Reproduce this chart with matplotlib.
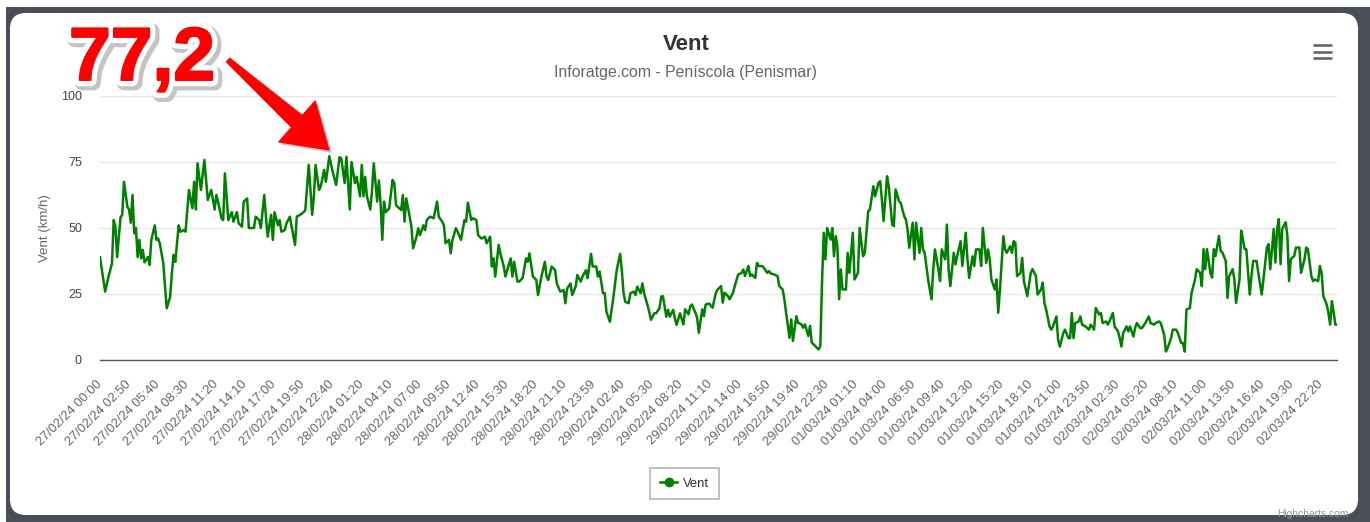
import matplotlib.pyplot as plt
import matplotlib.patheffects as pe
from matplotlib.patches import FancyBboxPatch, Rectangle, Polygon
from matplotlib.lines import Line2D
from matplotlib.transforms import IdentityTransform
import numpy as np

W, H = 1370, 522

# sample number (10 min steps from 27/02/24 00:00) and wind speed in km/h
steps = [0, 3, 5, 7, 8, 9, 10, 12, 13, 14, 16, 17, 18, 19, 20, 21, 22, 23, 24, 25, 26, 28, 29, 30,
         32, 33, 34, 35, 37, 38, 39, 41, 42, 43, 44, 46, 47, 49, 50, 52, 54, 55, 56, 57, 59, 61,
         63, 64, 65, 67, 68, 69, 71, 72, 73, 75, 77, 78, 80, 81, 83, 84, 86, 87, 90, 91, 93, 94,
         96, 97, 98, 100, 101, 102, 104, 105, 106, 108, 109, 111, 112, 114, 115, 117, 119, 120,
         122, 124, 125, 126, 128, 129, 131, 132, 133, 134, 136, 138, 140, 141, 143, 144, 146, 147,
         149, 150, 152, 153, 154, 155, 156, 158, 159, 160, 162, 163, 164, 165,
         166, 167, 169, 171, 172, 173, 174, 176, 177, 178, 179, 181, 182, 183, 185, 186, 187, 189,
         190, 191, 192, 193, 195, 197, 198, 200, 201, 202, 204, 205, 206, 208, 209, 211, 213, 214,
         215, 217, 218, 220, 221, 223, 225, 226, 228, 229, 230, 231, 233, 234, 236, 237, 238, 240,
         241, 242, 244, 245, 247, 249, 250, 251, 253, 254, 255, 256, 258, 260, 261, 262, 264, 266,
         267, 269, 271, 272, 273, 275, 276, 278, 279, 281, 282, 284, 285, 287, 288, 290, 291, 292,
         294, 295, 296, 298, 299, 300, 302, 304, 305, 306, 307, 309, 310, 312, 313, 314, 316, 317,
         318, 320, 321, 322, 324, 325, 327, 328, 329, 331, 332, 333, 335, 336, 337, 339,
         341, 342, 344, 345, 346, 348, 349, 350, 352, 353, 354, 356, 358, 360, 361, 363, 364, 365,
         367, 368, 370, 371, 373, 375, 376, 377, 379, 380, 381, 383, 384, 385, 387, 388, 390, 391,
         392, 394, 396, 397, 399, 400, 401, 403, 404, 405, 407, 408, 410, 411, 412, 414, 415, 416,
         418, 420, 421, 422, 423, 424, 425, 427, 428, 429, 430, 431, 432, 433, 434, 436, 437, 438,
         440, 441, 443, 444, 446, 447, 449, 450, 452, 453, 455, 456, 457, 458, 460, 461, 463, 464,
         465, 467, 468, 470, 471, 472, 473, 475, 476, 477, 479, 480, 481, 482, 484, 486, 487, 488,
         490, 491, 492, 494, 495, 496, 497, 499, 500, 501, 503, 504, 506, 507, 508, 510, 511, 512,
         514, 515, 516, 518, 519, 520, 521, 523, 524, 525, 526, 528, 529, 530, 532, 533, 534, 535,
         536, 538, 539, 540, 542, 544,
         545, 547, 548, 550, 551, 552, 553, 555, 556, 557, 559, 560, 561, 563, 564, 566, 567, 568,
         569, 570, 572, 573, 574, 576, 578, 579, 581, 582, 584, 585, 586, 588, 589, 590, 592, 593,
         595, 596, 597, 598, 600, 601, 602, 604, 605, 606, 608, 609, 611, 612, 613, 614, 616, 617,
         619, 620, 622, 623, 624, 626, 627, 629, 630, 632, 633, 634, 635, 637, 638, 640, 641, 643,
         644, 645, 646, 647, 649, 650, 651, 652, 654, 655, 656, 658, 659, 660, 662, 663, 664, 666,
         667, 668, 669, 670, 672, 673, 674, 676, 677, 679, 680, 682, 683, 684, 686, 687, 688, 689,
         690, 691, 693, 694, 695, 696, 698, 699, 701, 702, 704, 705, 706, 708, 709, 710, 712, 713,
         714, 715, 717, 718, 719, 720, 721, 722, 723]

vent = [38.9, 25.9, 31.6, 36.6, 53, 50.5, 39, 54, 55, 67.5, 58, 57, 52, 62.5, 48, 50, 39, 45.5,
        38.5, 41.7, 37, 39, 36, 45.5, 51, 45.5, 46, 44, 36.6, 27.8, 19.6, 24, 32.8, 39.8, 37.2, 51,
        48.6, 49.2, 48.6, 64.4, 57.5, 67.5, 57, 74.5, 64.4, 75.8, 60.6, 62.5, 64.4, 57, 62.5, 60,
        53.7, 53, 70.7, 53, 56, 52.4, 56, 51.8, 50.5, 60, 61.2, 50, 50, 54.3, 53, 50, 62.5, 54.3,
        46.7, 55, 45.5, 56, 51, 53, 48.6, 49.2, 51.8, 54.3, 50.5, 43.6, 54.3, 55, 56, 56.8, 73.9,
        55, 61.9, 73.9, 64.4, 65.7, 72, 67.5, 72, 77.2, 71.3, 66.3, 76.8, 76.4, 67, 77, 57, 75,
        67, 69.4, 62, 73.9, 62, 69.4, 62, 57, 64.4, 74.5, 60, 68, 59.3, 45.5,
        60, 56, 57.4, 68.2, 67, 58.7, 58, 56.8, 62.5, 52.4, 61.2, 54.3, 50.5, 42.3, 46.7, 49.9,
        47.3, 51, 49.2, 53, 53.7, 54.3, 53.7, 60, 54.3, 52.4, 51, 44.2, 45.5, 40.4, 45.5, 49.9,
        48.6, 45.5, 53, 52.4, 59.6, 53, 53.7, 53, 47.3, 46, 46.7, 44.2, 46.7, 35.4, 38.5, 31.6,
        43.6, 40.4, 35.4, 31.6, 34, 38.5, 31.6, 37.2, 29.7, 29.7, 31, 38.5, 37.2, 40.4, 31.6, 31,
        30.3, 24.6, 31.6, 37.2, 31.6, 30.3, 35.4, 34, 29, 25.9, 26.5, 21.5, 27, 29, 24.6, 27.8,
        32.2, 29.7, 31.6, 34, 31, 40.2, 35.4, 35.4, 31.6, 33.5, 25.3, 25.3, 18.3, 14.5, 19, 23.4,
        34, 40.2, 34, 25.3, 22.1, 21.5, 25.3, 25.9, 24.6, 27.8, 25.3, 29, 25.3, 20.8, 18.3, 15.2,
        17.7, 17.7, 19.6, 24, 24.2, 16.4, 19, 16.4, 19, 15.8, 13.3, 17.7,
        13.5, 19.2, 17.3, 20.4, 21, 17.9, 16, 10.3, 19.2, 16.6, 21, 21.4, 19.8, 25.5, 26.7, 28,
        21.7, 25.5, 24.2, 23, 25.5, 28, 32.4, 33, 34.3, 31.8, 35.6, 31.8, 32.4, 31.1, 36.8, 35.6,
        35.6, 34.9, 33, 33.7, 32.8, 32.4, 31.8, 28, 26.7, 23, 17.9, 8.4, 15.4, 7.2, 16.6, 14.1,
        13.5, 12.2, 13.5, 9.1, 12.9, 6.6, 5.3, 4, 5.3, 29.3, 48.2, 38.1, 50, 45.6, 50, 39.3, 46.9,
        43.1, 23, 34.3, 26.7, 26.7, 40.6, 33, 48.2, 30.5, 33, 50, 39.3, 40.6, 56.4, 57, 65.8, 62,
        67.1, 67.7, 60.8, 52.6, 69.6, 65.8, 51.3, 50.7, 64.6, 60.2, 59.5, 54.5, 53.2, 49.4, 42.5,
        52, 38.1, 52, 40.6, 50, 41.9, 40.6, 30.5, 23, 34.3, 41.9, 34.3, 29.9, 41.9, 38.1, 51.3,
        34.3, 28, 40.6, 36.2, 39.3, 45, 35.6, 48.2, 38.1, 31.1, 39.3, 35.6, 41.9, 41.9, 35.6, 50,
        36.8, 41.9, 38.1, 30.5, 26.7, 30.5, 17.9, 26.7, 46.9, 41.9, 40.6, 43.1, 40.6, 45, 44.4,
        31.8, 33, 38.7, 29.9, 24.2, 33,
        34.4, 31.8, 24.8, 26.7, 29.3, 21.6, 19.1, 12.7, 11.5, 12.7, 16.5, 7.6, 5.1, 10.2, 11.5,
        8.3, 8.3, 17.8, 8.3, 14, 14.6, 16.5, 13.4, 12.7, 11.5, 13.4, 11.5, 19.7, 17.2, 17.8, 14,
        14.6, 13.4, 14.6, 17.8, 12.7, 10.8, 8.3, 5.1, 10.2, 12.7, 10.8, 12.7, 8.9, 12.1, 14, 12.1,
        12.1, 14, 15.3, 16.5, 14, 13.4, 14, 14.6, 14, 9.5, 3.2, 4.5, 8.3, 11.5, 11.5, 10.2, 6.4,
        6.4, 3.2, 19.1, 19.7, 25.4, 30.5, 34.4, 33, 28, 42, 34.4, 42, 33, 31.2, 42, 39.4, 47,
        41.3, 40.7, 37.5, 23.5, 31.8, 34.4, 30.5, 21.6, 30.5, 49, 45.8, 42, 42, 24.8, 31.8, 37.5,
        37.5, 33, 24.8, 30.5, 42.6, 43.9, 34.4, 49.6, 36.9, 49.6, 53.4, 36.3, 49.6, 52.2, 47,
        29.9, 38.2, 39.4, 42.6, 42.6, 33, 38.2, 42.6, 42, 31.8, 29.9, 30.5, 29.9, 35.6, 33, 24.2,
        21, 17.8, 13.4, 22.3, 18.4, 13.4, 13.4]

tick_labels = ['27/02/24 00:00', '27/02/24 02:50', '27/02/24 05:40', '27/02/24 08:30',
               '27/02/24 11:20', '27/02/24 14:10', '27/02/24 17:00', '27/02/24 19:50',
               '27/02/24 22:40', '28/02/24 01:20', '28/02/24 04:10', '28/02/24 07:00',
               '28/02/24 09:50', '28/02/24 12:40', '28/02/24 15:30', '28/02/24 18:20',
               '28/02/24 21:10', '28/02/24 23:59', '29/02/24 02:40', '29/02/24 05:30',
               '29/02/24 08:20', '29/02/24 11:10', '29/02/24 14:00', '29/02/24 16:50',
               '29/02/24 19:40', '29/02/24 22:30', '01/03/24 01:10', '01/03/24 04:00',
               '01/03/24 06:50', '01/03/24 09:40', '01/03/24 12:30', '01/03/24 15:20',
               '01/03/24 18:10', '01/03/24 21:00', '01/03/24 23:50', '02/03/24 02:30',
               '02/03/24 05:20', '02/03/24 08:10', '02/03/24 11:00', '02/03/24 13:50',
               '02/03/24 16:40', '02/03/24 19:30', '02/03/24 22:20']
tick_step = 17
peak_label = '77,2'

plt.rcParams['font.family'] = ['Liberation Sans', 'DejaVu Sans']

fig = plt.figure(figsize=(W / 100, H / 100), dpi=100)
fig.patch.set_facecolor('white')


def px(x, y):
    # pixel position (from top left) -> figure fraction
    return x / W, 1 - y / H


def dpx(x, y):
    # pixel position (from top left) -> display coords
    return x, H - y


# dark frame + white rounded card
fig.add_artist(Rectangle(dpx(6, H + 5), W, H - 2, transform=IdentityTransform(),
                         facecolor='#4a4e58', edgecolor='none', zorder=-3))
fig.add_artist(FancyBboxPatch(dpx(10, 515), 1348, 502, boxstyle='round,pad=0,rounding_size=16',
                              transform=IdentityTransform(), facecolor='white',
                              edgecolor='none', zorder=-2))

ax = fig.add_axes([100 / W, 1 - 360 / H, 1237 / W, 264 / H])
ax.set_facecolor('none')
ax.plot(steps, vent, color='#008000', lw=1.8, solid_joinstyle='round', zorder=3)
ax.set_xlim(0, 723)
ax.set_ylim(0, 100)
ax.set_yticks([0, 25, 50, 75, 100])
ax.yaxis.grid(True, color='#e6e6e6', lw=1)
ax.set_axisbelow(True)
for s in ['top', 'right', 'left']:
    ax.spines[s].set_visible(False)
ax.spines['bottom'].set_color('#555555')
ax.spines['bottom'].set_linewidth(1.0)
ax.spines['bottom'].set_zorder(4)

ax.set_xticks(np.arange(len(tick_labels)) * tick_step)
ax.set_xticklabels(tick_labels, rotation=45, ha='right', va='center', rotation_mode='anchor')
ax.tick_params(axis='x', length=0, pad=16, labelsize=9.3, labelcolor='#666666')
ax.tick_params(axis='y', length=0, pad=13, labelsize=9, labelcolor='#444444')

fig.text(*px(45, 228), 'Vent (km/h)', rotation=90, ha='center', va='center',
         fontsize=9.5, color='#666666')
fig.text(*px(686, 44), 'Vent', ha='center', va='center', fontsize=16,
         fontweight='bold', color='#333333')
fig.text(*px(686, 73), 'Inforatge.com - Peníscola (Penismar)', ha='center', va='center',
         fontsize=11.4, color='#666666')
fig.text(*px(1348, 514), 'Highcharts.com', ha='right', va='center', fontsize=7.4,
         color='#999999')

# menu icon
for yy in [45, 51.5, 58]:
    fig.add_artist(Line2D([1313.5, 1330.5], [H - yy, H - yy], transform=IdentityTransform(),
                          color='#666666', lw=1.9, solid_capstyle='round'))

# legend
handle = Line2D([], [], color='#008000', lw=1.8, marker='o', markersize=6)
leg = fig.legend([handle], ['Vent'], loc='center', bbox_to_anchor=px(684.5, 483.5),
                 frameon=True, fancybox=False, edgecolor='#aaaaaa', fontsize=9.4,
                 handlelength=1.3, handletextpad=0.45, borderpad=0.75, borderaxespad=0)
leg.get_frame().set_linewidth(1.3)
for t in leg.get_texts():
    t.set_color('#333333')

# red annotation with arrow
fig.text(*px(69, 80), peak_label, ha='left', va='baseline', fontsize=54, fontweight='bold',
         color='#ff0000',
         path_effects=[pe.Stroke(linewidth=11, foreground='#c4c4c4', offset=(2, -2)),
                       pe.Stroke(linewidth=9, foreground='white'),
                       pe.Stroke(linewidth=1.5, foreground='#ff0000'), pe.Normal()])

tail = np.array([228.0, 60.0])
tip = np.array([329.0, 150.0])
u = (tip - tail) / np.hypot(*(tip - tail))
n = np.array([-u[1], u[0]])
base = tip - 43 * u
pts = [tail + 2.5 * n, base + 8 * n, base + 27.5 * n, tip, base - 27.5 * n, base - 8 * n,
       tail - 2.5 * n]
arrow = Polygon([dpx(*p) for p in pts], closed=True, transform=IdentityTransform(),
                facecolor='#ff0000', edgecolor='#ff0000', lw=0.8, zorder=10,
                path_effects=[pe.SimplePatchShadow(offset=(2, -2), shadow_rgbFace='#888888',
                                                   alpha=0.5), pe.Normal()])
fig.add_artist(arrow)

fig.savefig('out.png', dpi=100)
